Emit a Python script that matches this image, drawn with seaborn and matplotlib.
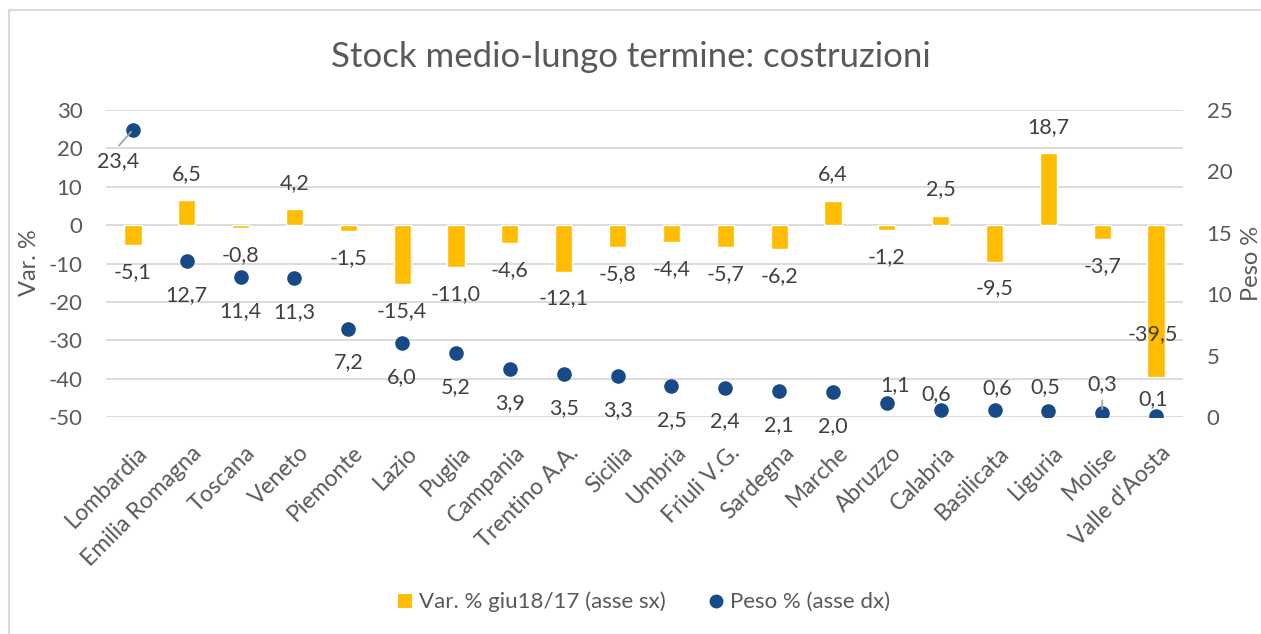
import numpy as np
import pandas as pd
import matplotlib
matplotlib.use("Agg")
import matplotlib.pyplot as plt
import matplotlib.transforms as mtransforms
from matplotlib.lines import Line2D
import seaborn as sns

regions = ["Lombardia", "Emilia Romagna", "Toscana", "Veneto", "Piemonte", "Lazio",
           "Puglia", "Campania", "Trentino A.A.", "Sicilia", "Umbria", "Friuli V.G.",
           "Sardegna", "Marche", "Abruzzo", "Calabria", "Basilicata", "Liguria",
           "Molise", "Valle d'Aosta"]
var_pct = [-5.1, 6.5, -0.8, 4.2, -1.5, -15.4, -11.0, -4.6, -12.1, -5.8, -4.4, -5.7,
           -6.2, 6.4, -1.2, 2.5, -9.5, 18.7, -3.7, -39.5]
peso_pct = [23.4, 12.7, 11.4, 11.3, 7.2, 6.0, 5.2, 3.9, 3.5, 3.3, 2.5, 2.4, 2.1, 2.0,
            1.1, 0.6, 0.6, 0.5, 0.3, 0.1]

title = "Stock medio-lungo termine: costruzioni"
left_label = "Var. %"
right_label = "Peso %"
bar_legend = "Var. % giu18/17 (asse sx)"
dot_legend = "Peso % (asse dx)"

BAR = "#FFBC00"
DOT = "#174A86"
TXT = "#595959"
LBL = "#404040"
GRID = "#D9D9D9"

sns.set_theme(style="white")
plt.rcParams["font.family"] = ["Lato", "DejaVu Sans"]
plt.rcParams["axes.unicode_minus"] = False

df = pd.DataFrame({"region": regions, "var": var_pct, "peso": peso_pct})

fig = plt.figure(figsize=(12.61, 6.34), dpi=100)
W, H = 1261, 634
ax = fig.add_axes([106 / W, 1 - 417 / H, (1183 - 106) / W, (417 - 110) / H])

sns.barplot(data=df, x="region", y="var", color=BAR, width=0.32, saturation=1,
            ax=ax, zorder=3)
ax.set_ylim(-50, 30)
ax.set_yticks(np.arange(-50, 31, 10))
ax.grid(axis="y", color=GRID, linewidth=1.3, zorder=0)
ax.set_axisbelow(True)
for s in ax.spines.values():
    s.set_visible(False)
ax.set_xlabel("")
ax.set_ylabel("")
ax.tick_params(axis="y", labelsize=16, colors=TXT, length=0, pad=17)
ax.tick_params(axis="x", labelsize=16.5, colors=TXT, length=0, pad=18)
offset = mtransforms.ScaledTranslation(4 / 100, 0, fig.dpi_scale_trans)
for lab in ax.get_xticklabels():
    lab.set_rotation(45)
    lab.set_ha("right")
    lab.set_va("top")
    lab.set_rotation_mode("anchor")
    lab.set_transform(lab.get_transform() + offset)

ax2 = ax.twinx()
sns.stripplot(data=df, x="region", y="peso", jitter=False, color=DOT, size=10.5,
              linewidth=0, ax=ax2, zorder=4)
ax2.set_ylim(0, 25)
ax2.set_yticks(np.arange(0, 26, 5))
for s in ax2.spines.values():
    s.set_visible(False)
ax2.grid(False)
ax2.set_ylabel("")
ax2.tick_params(axis="y", labelsize=16, colors=TXT, length=0, pad=17)
ax2.tick_params(axis="x", length=0)
ax2.set_xlabel("")
ax.set_xlim(-0.5, len(regions) - 0.5)
ax2.set_xlim(-0.5, len(regions) - 0.5)

fig.text(30 / W, 1 - 263 / H, left_label, rotation=90, ha="center", va="center",
         fontsize=17, color=TXT)
fig.text(1251 / W, 1 - 263 / H, right_label, rotation=90, ha="center", va="center",
         fontsize=17, color=TXT)

LFS = 15.5
# bar labels
for i, v in enumerate(var_pct):
    txt = f"{v:.1f}".replace(".", ",")
    if i == len(regions) - 1:
        ax.annotate(txt, (i, v), xytext=(-3, 43), textcoords="offset pixels",
                    ha="center", va="center", fontsize=LFS, color=LBL, zorder=6)
        continue
    dy = 26 if v >= 0 else -27
    ax.annotate(txt, (i, v), xytext=(0, dy), textcoords="offset pixels",
                ha="center", va="center", fontsize=LFS, color=LBL, zorder=6)

# dot labels: offsets in pixels (dx, dy)
dot_off = {0: (-15, -31), 14: (8, 18), 15: (-4, 16), 16: (3, 22), 17: (-3, 24),
           18: (0, 29), 19: (-3, 17)}
for i, v in enumerate(peso_pct):
    txt = f"{v:.1f}".replace(".", ",")
    dx, dy = dot_off.get(i, (0, -34))
    ax2.annotate(txt, (i, v), xytext=(dx, dy), textcoords="offset pixels",
                 ha="center", va="center", fontsize=LFS, color=LBL, zorder=6)
# leader lines
ax2.annotate("", (0, peso_pct[0]), xytext=(-14, -16), textcoords="offset pixels",
             arrowprops=dict(arrowstyle="-", color="#A6A6A6", lw=1.3,
                             shrinkA=0, shrinkB=2), zorder=5)
ax2.annotate("", (18, peso_pct[18]), xytext=(0, 13), textcoords="offset pixels",
             arrowprops=dict(arrowstyle="-", color="#A6A6A6", lw=1.3,
                             shrinkA=0, shrinkB=3), zorder=5)

fig.suptitle(title, x=0.5, y=1 - 57 / H, va="center", fontsize=25, color=TXT)

handles = [Line2D([], [], marker="s", linestyle="none", markersize=10,
                  markerfacecolor=BAR, markeredgewidth=0),
           Line2D([], [], marker="o", linestyle="none", markersize=10,
                  markerfacecolor=DOT, markeredgewidth=0)]
fig.legend(handles, [bar_legend, dot_legend], loc="center",
           bbox_to_anchor=(0.51, 1 - 602 / H), ncol=2, frameon=False,
           fontsize=16, labelcolor=TXT, handletextpad=0.2, columnspacing=1.9,
           handlelength=0.8)

# chart area border (top and left)
fig.add_artist(Line2D([9 / W, 9 / W], [0, 1 - 10 / H], transform=fig.transFigure,
                      color="#D9D9D9", lw=1.5))
fig.add_artist(Line2D([9 / W, 1], [1 - 10 / H, 1 - 10 / H], transform=fig.transFigure,
                      color="#D9D9D9", lw=1.5))

fig.savefig("out.png", dpi=100, facecolor="white")
